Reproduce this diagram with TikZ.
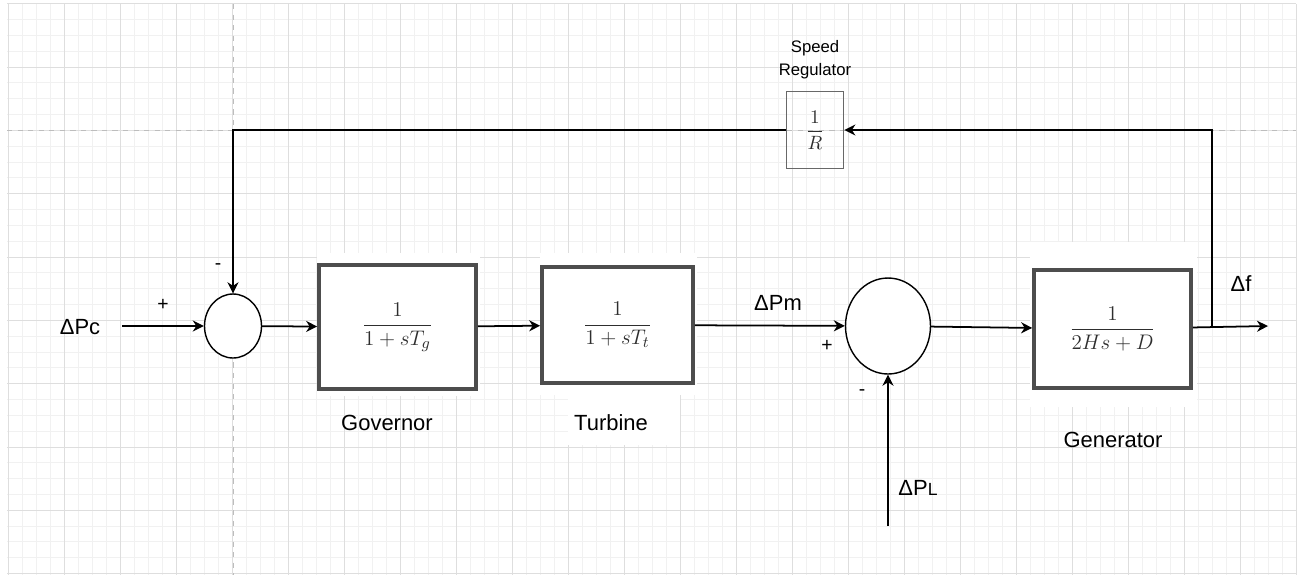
\documentclass[tikz,border=0pt]{standalone}
\usepackage[no-math]{fontspec}
\setmainfont{Liberation Sans}
\usepackage{xcolor}
\usetikzlibrary{positioning, arrows.meta, shapes.geometric}
\definecolor{gridminor}{HTML}{F1F1F1}
\definecolor{gridmajor}{HTML}{DEDEDE}
\definecolor{guide}{HTML}{BDBDBD}
\definecolor{boxline}{HTML}{4D4D4D}
\definecolor{mathgrey}{HTML}{2E2E2E}

\begin{document}
\begin{tikzpicture}[x=0.02cm, y=-0.02cm,
    block/.style={draw=boxline, line width=2.1pt, fill=white, inner sep=0pt,
      minimum width=3.14cm, minimum height=2.48cm, text=mathgrey,
      font=\fontsize{13}{15}\selectfont},
    sumpt/.style={draw, ellipse, line width=0.8pt, fill=white, inner sep=0pt},
    sig/.style={-{Stealth[length=0.22cm, width=0.22cm, inset=0.07cm]}, line width=1pt},
    lbl/.style={font=\fontsize{12.5}{15}\selectfont, inner sep=0pt},
    sgn/.style={font=\fontsize{11}{13}\selectfont, inner sep=0pt}]
      \useasboundingbox (0,0) rectangle (1301,579);
      % background grid
      \foreach \k in {0,...,92}
        \draw[gridminor, line width=0.5pt] ({8+14*\k},4) -- ({8+14*\k},575);
      \foreach \k in {0,...,36}
        \draw[gridminor, line width=0.5pt] (7,{3.7+15.83*\k}) -- (1296,{3.7+15.83*\k});
      \foreach \k in {0,...,23}
        \draw[gridmajor, line width=0.5pt] ({8+56*\k},4) -- ({8+56*\k},575);
      \foreach \k in {0,...,9}
        \draw[gridmajor, line width=0.5pt] (7,{3.7+63.32*\k}) -- (1296,{3.7+63.32*\k});
      \fill[white] (317,253) rectangle (480,396);
      \fill[white] (540,253) rectangle (697,395);
      \fill[white] (1030,242) rectangle (1197,407);
      \fill[white] (568,395) rectangle (680,445);
      \draw[guide, dashed, line width=0.5pt] (7,130) -- (1296,130);
      \draw[guide, dashed, line width=0.5pt] (233,4) -- (233,575);

      % blocks
      \node[sumpt, minimum width=1.14cm, minimum height=1.28cm] (sum1) at (233,326) {};
      \node[block] (gov) at (397.5,327) {$\displaystyle\frac{1}{1+sT_g}$};
      \node[block, minimum width=3.02cm, minimum height=2.32cm] (tur) at (617.5,325)
        {$\displaystyle\frac{1}{1+sT_t}$};
      \node[sumpt, minimum width=1.7cm, minimum height=1.92cm] (sum2) at (888,326) {};
      \node[block, minimum height=2.36cm] (gen) at (1112.5,329)
        {$\displaystyle\frac{1}{2Hs+D}$};
      \node[draw=boxline!85, line width=1pt, minimum width=1.14cm, minimum height=1.54cm,
        inner sep=0pt, text=mathgrey, font=\fontsize{11}{13}\selectfont]
        (reg) at (815,130) {$\displaystyle\frac{1}{R}$};

      % signals
      \coordinate (pcin) at (122,326);
      \coordinate (fout) at (1268,326);
      \coordinate (tap) at (1212,326);
      \coordinate (plin) at (888,526);
      \draw[sig] (pcin) -- (sum1);
      \draw[sig] (sum1) -- (gov);
      \draw[sig] (gov) -- (tur);
      \draw[sig] (tur) -- (sum2);
      \draw[sig] (sum2) -- (gen);
      \draw[sig] (gen) -- (fout);
      \draw[sig] (tap) |- (reg);
      \draw[sig] (reg) -| (sum1);
      \draw[sig] (plin) -- (sum2);

      % labels
      \node[lbl] (pclbl) at (80,327) {ΔPc};
      \node[sgn] (plus1) at (163,305) {+};
      \node[sgn] (minus1) at (218,267) {-};
      \node[lbl] (pmlbl) at (778,303) {ΔPm};
      \node[sgn] (plus2) at (827,346) {+};
      \node[sgn] (minus2) at (862,393) {-};
      \node[lbl] (pllbl) at (918,488) {ΔP{\fontsize{10}{12}\selectfont L}};
      \node[lbl] (flbl) at (1241,284) {Δf};
      \node[lbl] (govlbl) at (387,423) {Governor};
      \node[lbl] (turlbl) at (611,423) {Turbine};
      \node[lbl] (genlbl) at (1113,440) {Generator};
      \node[font=\fontsize{9.5}{13}\selectfont, align=center, inner sep=0pt]
        (reglbl) at (815,60) {Speed\\Regulator};
    \end{tikzpicture}
\end{document}
